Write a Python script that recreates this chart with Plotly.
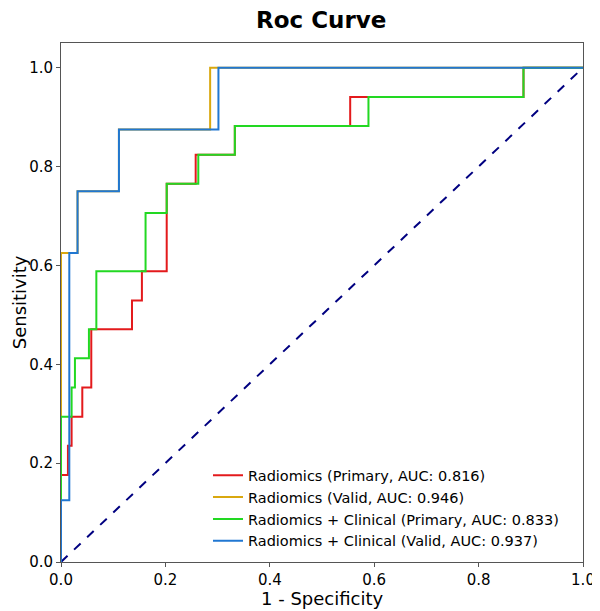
import plotly.graph_objects as go

# ---- data ----
red_fpr = [0, 0, 0.0133, 0.0133, 0.0203, 0.0203, 0.0408, 0.0408, 0.058, 0.058, 0.136, 0.136,
           0.155, 0.155, 0.2025, 0.2025, 0.258, 0.258, 0.333, 0.333, 0.554, 0.554, 0.886, 0.886, 1.0]
red_tpr = [0, 0.176, 0.176, 0.235, 0.235, 0.294, 0.294, 0.353, 0.353, 0.471, 0.471, 0.529,
           0.529, 0.588, 0.588, 0.765, 0.765, 0.824, 0.824, 0.882, 0.882, 0.941, 0.941, 1.0, 1.0]

yellow_fpr = [0, 0, 0.0317, 0.0317, 0.111, 0.111, 0.2857, 0.2857, 1.0]
yellow_tpr = [0, 0.625, 0.625, 0.75, 0.75, 0.875, 0.875, 1.0, 1.0]

green_fpr = [0, 0, 0.0203, 0.0203, 0.0267, 0.0267, 0.0535, 0.0535, 0.0677, 0.0677, 0.162, 0.162,
             0.2025, 0.2025, 0.263, 0.263, 0.333, 0.333, 0.589, 0.589, 0.886, 0.886, 1.0]
green_tpr = [0, 0.294, 0.294, 0.353, 0.353, 0.412, 0.412, 0.471, 0.471, 0.588, 0.588, 0.706,
             0.706, 0.765, 0.765, 0.824, 0.824, 0.882, 0.882, 0.941, 0.941, 1.0, 1.0]

blue_fpr = [0, 0, 0.0159, 0.0159, 0.0317, 0.0317, 0.111, 0.111, 0.3016, 0.3016, 1.0]
blue_tpr = [0, 0.125, 0.125, 0.625, 0.625, 0.75, 0.75, 0.875, 0.875, 1.0, 1.0]

diag_x = [0, 1]
diag_y = [0, 1]

names = [
    "Radiomics (Primary, AUC: 0.816)",
    "Radiomics (Valid, AUC: 0.946)",
    "Radiomics + Clinical (Primary, AUC: 0.833)",
    "Radiomics + Clinical (Valid, AUC: 0.937)",
]
colors = ["#e31a1c", "#d9a80f", "#22d822", "#2077d2"]

tick_vals = [0.0, 0.2, 0.4, 0.6, 0.8, 1.0]
tick_text = ["0.0", "0.2", "0.4", "0.6", "0.8", "1.0"]

x_title = "1 - Specificity"
y_title = "Sensitivity"
chart_title = "Roc Curve"

FONT = "DejaVu Sans"

fig = go.Figure()
fig.add_trace(go.Scatter(x=diag_x, y=diag_y, mode="lines", showlegend=False,
                         line=dict(color="#000080", width=2, dash="dash"), hoverinfo="skip"))
for fx, ty, nm, c in zip([red_fpr, yellow_fpr, green_fpr, blue_fpr],
                         [red_tpr, yellow_tpr, green_tpr, blue_tpr], names, colors):
    fig.add_trace(go.Scatter(x=fx, y=ty, mode="lines", name=nm,
                             line=dict(color=c, width=2)))

axis_common = dict(
    showgrid=False, zeroline=False, showline=True, mirror=True, automargin=False,
    linecolor="#555555", linewidth=1, ticks="outside", ticklen=4,
    tickcolor="#555555", tickfont=dict(family=FONT, size=15, color="black"),
    tickvals=tick_vals, ticktext=tick_text,
)

fig.update_layout(
    width=592, height=603,
    paper_bgcolor="white", plot_bgcolor="white",
    margin=dict(l=53, r=17, t=35, b=49),
    font=dict(family=FONT, color="black"),
    title=dict(text="<b>" + chart_title + "</b>", x=0.529, xanchor="center", y=0.981, yanchor="middle",
               font=dict(family=FONT, size=23, color="black")),
    xaxis=dict(range=[0, 1], **axis_common),
    yaxis=dict(range=[0, 1.05], **axis_common),
    legend=dict(x=0.2816, y=0.009, xanchor="left", yanchor="bottom",
                bgcolor="rgba(255,255,255,0)", borderwidth=0,
                font=dict(family=FONT, size=14.5, color="black"), tracegroupgap=0),
    annotations=[
        dict(text=x_title, xref="paper", yref="paper", x=0.5, y=-0.071,
             xanchor="center", yanchor="middle", showarrow=False,
             font=dict(family=FONT, size=18, color="black")),
        dict(text=y_title, xref="paper", yref="paper", x=-0.079, y=0.5,
             xanchor="center", yanchor="middle", showarrow=False, textangle=-90,
             font=dict(family=FONT, size=18, color="black")),
    ],
)

fig.write_html("out.html")
